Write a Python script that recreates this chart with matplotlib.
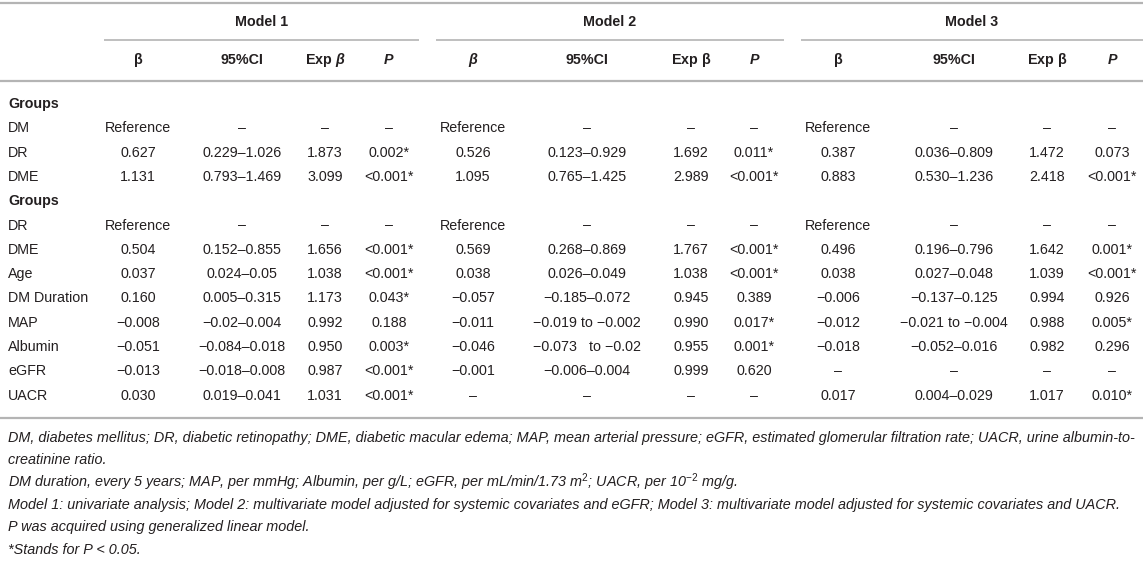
import matplotlib
matplotlib.use("Agg")
import matplotlib.pyplot as plt

# ---------------- data ----------------
row_labels = ["Groups", "DM", "DR", "DME", "Groups", "DR", "DME", "Age",
              "DM Duration", "MAP", "Albumin", "eGFR", "UACR"]
bold_rows = [True, False, False, False, True, False, False, False,
             False, False, False, False, False]

models = ["Model 1", "Model 2", "Model 3"]

m1_beta = ["", "Reference", "0.627", "1.131", "", "Reference", "0.504", "0.037",
           "0.160", "\u22120.008", "\u22120.051", "\u22120.013", "0.030"]
m1_ci = ["", "\u2013", "0.229\u20131.026", "0.793\u20131.469", "", "\u2013",
         "0.152\u20130.855", "0.024\u20130.05", "0.005\u20130.315",
         "\u22120.02\u20130.004", "\u22120.084\u20130.018", "\u22120.018\u20130.008",
         "0.019\u20130.041"]
m1_exp = ["", "\u2013", "1.873", "3.099", "", "\u2013", "1.656", "1.038",
          "1.173", "0.992", "0.950", "0.987", "1.031"]
m1_p = ["", "\u2013", "0.002*", "<0.001*", "", "\u2013", "<0.001*", "<0.001*",
        "0.043*", "0.188", "0.003*", "<0.001*", "<0.001*"]

m2_beta = ["", "Reference", "0.526", "1.095", "", "Reference", "0.569", "0.038",
           "\u22120.057", "\u22120.011", "\u22120.046", "\u22120.001", "\u2013"]
m2_ci = ["", "\u2013", "0.123\u20130.929", "0.765\u20131.425", "", "\u2013",
         "0.268\u20130.869", "0.026\u20130.049", "\u22120.185\u20130.072",
         "\u22120.019 to \u22120.002", "\u22120.073   to \u22120.02",
         "\u22120.006\u20130.004", "\u2013"]
m2_exp = ["", "\u2013", "1.692", "2.989", "", "\u2013", "1.767", "1.038",
          "0.945", "0.990", "0.955", "0.999", "\u2013"]
m2_p = ["", "\u2013", "0.011*", "<0.001*", "", "\u2013", "<0.001*", "<0.001*",
        "0.389", "0.017*", "0.001*", "0.620", "\u2013"]

m3_beta = ["", "Reference", "0.387", "0.883", "", "Reference", "0.496", "0.038",
           "\u22120.006", "\u22120.012", "\u22120.018", "\u2013", "0.017"]
m3_ci = ["", "\u2013", "0.036\u20130.809", "0.530\u20131.236", "", "\u2013",
         "0.196\u20130.796", "0.027\u20130.048", "\u22120.137\u20130.125",
         "\u22120.021 to \u22120.004", "\u22120.052\u20130.016", "\u2013",
         "0.004\u20130.029"]
m3_exp = ["", "\u2013", "1.472", "2.418", "", "\u2013", "1.642", "1.039",
          "0.994", "0.988", "0.982", "\u2013", "1.017"]
m3_p = ["", "\u2013", "0.073", "<0.001*", "", "\u2013", "0.001*", "<0.001*",
        "0.926", "0.005*", "0.296", "\u2013", "0.010*"]

col_headers = [
    [r"$\mathbf{\beta}$", "95%CI", r"Exp $\mathbfit{\beta}$", "P"],
    [r"$\mathbfit{\beta}$", "95%CI", r"Exp $\mathbf{\beta}$", "P"],
    [r"$\mathbf{\beta}$", "95%CI", r"Exp $\mathbf{\beta}$", "P"],
]

footnotes = [
    "DM, diabetes mellitus; DR, diabetic retinopathy; DME, diabetic macular edema; MAP, mean arterial pressure; eGFR, estimated glomerular filtration rate; UACR, urine albumin-to-",
    "creatinine ratio.",
    "DM duration, every 5 years; MAP, per mmHg; Albumin, per g/L; eGFR, per mL/min/1.73 m$^{2}$; UACR, per 10$^{-2}$ mg/g.",
    "Model 1: univariate analysis; Model 2: multivariate model adjusted for systemic covariates and eGFR; Model 3: multivariate model adjusted for systemic covariates and UACR.",
    "P was acquired using generalized linear model.",
    "*Stands for P < 0.05.",
]

# ---------------- layout ----------------
plt.rcParams["font.family"] = ["Liberation Sans", "DejaVu Sans"]
plt.rcParams["mathtext.fontset"] = "custom"
plt.rcParams["mathtext.rm"] = "Liberation Sans"
plt.rcParams["mathtext.it"] = "Liberation Sans:italic"
plt.rcParams["mathtext.bf"] = "Liberation Sans:bold"
plt.rcParams["mathtext.bfit"] = "Liberation Sans:italic:bold"

W, H = 1143, 567
fig = plt.figure(figsize=(W / 100, H / 100), dpi=100)
ax = fig.add_axes([0, 0, 1, 1])
ax.set_xlim(0, W)
ax.set_ylim(H, 0)
ax.axis("off")

TXT = "#231f20"
LINE = "#b4b4b4"
FS = 10.3

col_x = [
    [138, 242, 325, 389],
    [473, 587, 691, 754],
    [838, 954, 1047, 1112],
]
model_spans = [(104, 419), (436, 784), (801, W)]

# rules
ax.plot([0, W], [3, 3], color=LINE, lw=1.6, solid_capstyle="butt")
for a, b in model_spans:
    ax.plot([a, b], [40, 40], color=LINE, lw=1.2, solid_capstyle="butt")
ax.plot([0, W], [81, 81], color=LINE, lw=1.6, solid_capstyle="butt")
ax.plot([0, W], [418, 418], color=LINE, lw=1.6, solid_capstyle="butt")

# model titles
for (a, b), name in zip(model_spans, models):
    ax.text((a + b) / 2, 22, name, ha="center", va="center", fontsize=FS,
            fontweight="bold", color=TXT)

# column headers
for xs, hdrs in zip(col_x, col_headers):
    for x, h in zip(xs, hdrs):
        style = "italic" if h == "P" else "normal"
        ax.text(x, 60, h, ha="center", va="center", fontsize=FS,
                fontweight="bold", fontstyle=style, color=TXT)

# body
y0, dy = 104, 24.3
model_data = [
    [m1_beta, m1_ci, m1_exp, m1_p],
    [m2_beta, m2_ci, m2_exp, m2_p],
    [m3_beta, m3_ci, m3_exp, m3_p],
]
for i, lab in enumerate(row_labels):
    y = y0 + i * dy
    ax.text(8, y, lab, ha="left", va="center", fontsize=FS, color=TXT,
            fontweight="bold" if bold_rows[i] else "normal")
    for xs, cols in zip(col_x, model_data):
        for x, col in zip(xs, cols):
            if col[i]:
                ax.text(x, y, col[i], ha="center", va="center", fontsize=FS,
                        color=TXT)

# footnotes (fit first line to the width of the table)
renderer = fig.canvas.get_renderer()
probe = ax.text(8, 0, footnotes[0], fontsize=10, fontstyle="italic")
wpx = probe.get_window_extent(renderer=renderer).width
probe.remove()
ffs = 10 * 1127.0 / wpx
fy0, fdy = 438, 22.3
for j, line in enumerate(footnotes):
    ax.text(8, fy0 + j * fdy, line, ha="left", va="center", fontsize=ffs,
            fontstyle="italic", color=TXT)

fig.savefig("out.png", dpi=100)
